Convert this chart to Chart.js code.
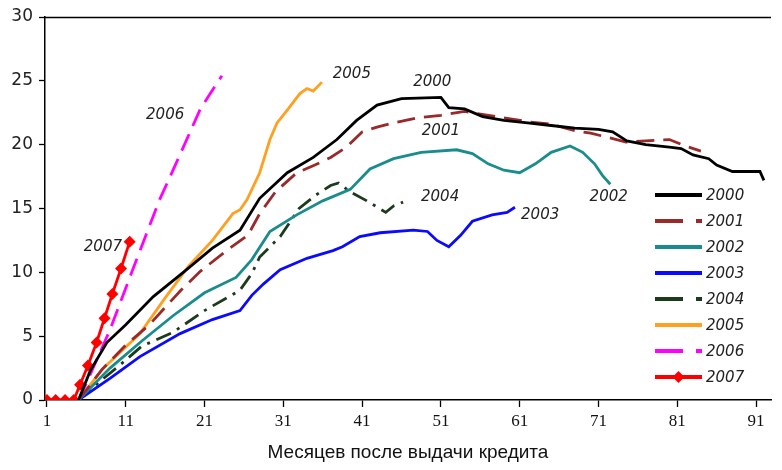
<!DOCTYPE html>
<html lang="ru">
<head>
<meta charset="utf-8">
<script src="https://cdn.jsdelivr.net/npm/chart.js@4.4.1/dist/chart.umd.min.js"></script>
<style>
  html, body { margin: 0; padding: 0; background: #fff; }
  #wrap { width: 782px; height: 470px; position: relative; }
</style>
</head>
<body>
<div id="wrap"><canvas id="chart"></canvas></div>
<script>
/* Datos (meses después de la emisión / valor en %) */

const xTicks = [1, 11, 21, 31, 41, 51, 61, 71, 81, 91];
const yTicks = [0, 5, 10, 15, 20, 25, 30];

const months2000 = [5, 6.5, 8.6, 11, 14.5, 18.3, 22, 25.5, 28, 31.5, 34.8, 37.8, 40.3, 42.9, 46, 51, 52, 54, 56.3, 59, 62, 65, 68, 71, 72.8, 74.6, 77, 80, 81.5, 83, 85, 86, 88, 90, 91.5, 92];
const values2000 = [0, 2.3, 4.5, 5.9, 8.1, 10.0, 11.9, 13.3, 15.8, 17.8, 19.0, 20.4, 21.9, 23.1, 23.6, 23.7, 22.9, 22.8, 22.2, 21.9, 21.7, 21.5, 21.3, 21.2, 21.0, 20.3, 20.0, 19.8, 19.7, 19.2, 18.9, 18.4, 17.9, 17.9, 17.9, 17.2];

const months2001 = [5, 8, 11, 14, 18, 20.5, 24, 26.5, 28, 30, 32.7, 35, 37, 39, 41, 43, 45, 48, 51, 54, 58, 62, 65, 68, 70, 72, 74.5, 77, 80, 82, 84];
const values2001 = [0, 2.4, 4.3, 5.9, 8.6, 10.1, 11.8, 12.9, 14.6, 16.3, 17.8, 18.4, 19.0, 19.8, 21.0, 21.4, 21.7, 22.1, 22.3, 22.6, 22.2, 21.8, 21.6, 21.1, 20.9, 20.6, 20.2, 20.3, 20.4, 19.9, 19.5];

const months2002 = [5, 9, 13, 17, 21, 25, 27, 29.3, 32.7, 36, 39.5, 42, 45, 48.5, 53, 55, 57, 59, 61, 63, 65, 67.4, 69, 70.5, 71.5, 72.5];
const values2002 = [0, 2.5, 4.6, 6.6, 8.4, 9.6, 11.0, 13.2, 14.5, 15.6, 16.5, 18.1, 18.9, 19.4, 19.6, 19.3, 18.5, 18.0, 17.8, 18.5, 19.4, 19.9, 19.4, 18.5, 17.6, 16.9];

const months2003 = [5, 9, 12.8, 17.9, 22, 25.5, 27, 28.5, 30.6, 34, 37.3, 38.5, 40.7, 43.3, 47.5, 49.3, 50.5, 52, 53.5, 55, 57.5, 59.4, 60.4];
const values2003 = [0, 1.7, 3.4, 5.2, 6.3, 7.0, 8.2, 9.1, 10.2, 11.1, 11.7, 12.0, 12.8, 13.1, 13.3, 13.2, 12.5, 12.0, 12.9, 14.0, 14.5, 14.7, 15.1];

const months2004 = [5, 8, 10, 13, 17, 21, 25.5, 27, 28, 30.6, 33, 35, 37, 38, 39.5, 41.6, 44, 45, 46.2];
const values2004 = [0, 1.6, 2.6, 4.2, 5.3, 7.0, 8.6, 9.9, 11.2, 12.8, 15.0, 16.0, 16.8, 17.0, 16.3, 15.6, 14.7, 15.2, 15.5];

const months2005 = [5, 8, 12.8, 16, 19, 22, 24.6, 25.5, 26.4, 28, 29.3, 30.2, 31.5, 33.1, 34, 34.8, 35.9];
const values2005 = [0, 2.4, 5.2, 8.0, 10.5, 12.5, 14.6, 14.9, 15.7, 17.8, 20.4, 21.7, 22.7, 24.0, 24.4, 24.2, 24.9];

const months2006 = [5, 6, 9, 12, 15.3, 17, 19.1, 20.4, 21.4, 23.2];
const values2006 = [0, 1.3, 5.5, 10.4, 15.7, 18.0, 20.9, 22.7, 23.7, 25.4];

const months2007 = [1, 2.1, 3.3, 4.4, 5.2, 6.2, 7.3, 8.3, 9.3, 10.4, 11.5];
const values2007 = [0, 0, 0, 0, 1.2, 2.7, 4.5, 6.4, 8.3, 10.3, 12.4];

// Etiquetas de año escritas sobre las curvas (en coordenadas de datos)
const noteText = ['2006', '2005', '2000', '2001', '2002', '2004', '2003', '2007'];
const noteX    = [16.0, 39.7, 49.9, 51.0, 72.3, 50.9, 63.6, 8.1];
const noteY    = [22.3, 25.5, 24.9, 21.1, 15.9, 15.9, 14.5, 12.0];

const xTitle = 'Месяцев после выдачи кредита';


/* Estilos de cada serie */

const COLORS = {
  y2000: '#000000',
  y2001: '#9a2a2a',
  y2002: '#1a8c8c',
  y2003: '#0a0aff',
  y2004: '#1c3a1c',
  y2005: '#ffa020',
  y2006: '#ff00ff',
  y2007: '#ff0000',
  text:  '#222222',
};

const toPoints = (xs, ys) => xs.map((x, i) => ({ x: x, y: ys[i] }));

const series = [
  { label: '2000', m: months2000, v: values2000, color: COLORS.y2000, dash: [],           legendDash: [] },
  { label: '2001', m: months2001, v: values2001, color: COLORS.y2001, dash: [18, 9],      legendDash: [28, 13] },
  { label: '2002', m: months2002, v: values2002, color: COLORS.y2002, dash: [],           legendDash: [] },
  { label: '2003', m: months2003, v: values2003, color: COLORS.y2003, dash: [],           legendDash: [] },
  { label: '2004', m: months2004, v: values2004, color: COLORS.y2004, dash: [16, 7, 3, 7], legendDash: [28, 13] },
  { label: '2005', m: months2005, v: values2005, color: COLORS.y2005, dash: [],           legendDash: [] },
  { label: '2006', m: months2006, v: values2006, color: COLORS.y2006, dash: [18, 9],      legendDash: [28, 13] },
  { label: '2007', m: months2007, v: values2007, color: COLORS.y2007, dash: [],           legendDash: [], marker: true },
];

const datasets = series.map(s => ({
  label: s.label,
  data: toPoints(s.m, s.v),
  borderColor: s.color,
  backgroundColor: s.color,
  borderWidth: 2.8,
  borderDash: s.dash,
  pointRadius: s.marker ? 6 : 0,
  pointStyle: 'rectRot',
  pointBorderWidth: 0,
  tension: 0,
  fill: false,
}));


/* Plugin: borde superior, etiquetas de año y leyenda dentro del área */

const extrasPlugin = {
  id: 'extras',
  afterDatasetsDraw(chart) {
    const { ctx, chartArea, scales } = chart;
    ctx.save();

    // línea superior del marco
    ctx.strokeStyle = '#000';
    ctx.lineWidth = 1.3;
    ctx.beginPath();
    ctx.moveTo(chartArea.left, chartArea.top + 0.5);
    ctx.lineTo(chartArea.right, chartArea.top + 0.5);
    ctx.stroke();

    // etiquetas junto a las curvas
    ctx.font = 'italic 15px "DejaVu Sans"';
    ctx.fillStyle = COLORS.text;
    ctx.textAlign = 'center';
    ctx.textBaseline = 'middle';
    noteText.forEach((t, i) => {
      ctx.fillText(t, scales.x.getPixelForValue(noteX[i]), scales.y.getPixelForValue(noteY[i]));
    });

    // leyenda
    const x0 = 655, x1 = 702, yStart = 195, step = 26;
    ctx.textAlign = 'left';
    series.forEach((s, i) => {
      const yy = yStart + i * step;
      ctx.strokeStyle = s.color;
      ctx.lineWidth = 4;
      ctx.setLineDash(s.legendDash);
      ctx.beginPath();
      ctx.moveTo(x0, yy);
      ctx.lineTo(x1, yy);
      ctx.stroke();
      ctx.setLineDash([]);
      if (s.marker) {
        ctx.fillStyle = s.color;
        ctx.beginPath();
        ctx.moveTo((x0 + x1) / 2, yy - 6);
        ctx.lineTo((x0 + x1) / 2 + 6, yy);
        ctx.lineTo((x0 + x1) / 2, yy + 6);
        ctx.lineTo((x0 + x1) / 2 - 6, yy);
        ctx.closePath();
        ctx.fill();
      }
      ctx.fillStyle = COLORS.text;
      ctx.fillText(s.label, x1 + 4, yy + 1);
    });

    ctx.restore();
  },
};


/* Gráfico */

new Chart(document.getElementById('chart'), {
  type: 'line',
  data: { datasets: datasets },
  plugins: [extrasPlugin],
  options: {
    responsive: true,
    maintainAspectRatio: false,
    animation: false,
    layout: { padding: { top: 17, right: 11, left: 0, bottom: 0 } },
    plugins: {
      legend: { display: false },
      tooltip: { enabled: false },
    },
    scales: {
      x: {
        type: 'linear',
        min: 0.75,
        max: 92.9,
        afterBuildTicks: (scale) => { scale.ticks = xTicks.map(v => ({ value: v })); },
        afterFit: (scale) => { scale.height = 70; },
        ticks: {
          autoSkip: false,
          maxRotation: 0,
          color: '#111',
          padding: 4,
          font: { family: '"Liberation Serif", serif', size: 17 },
        },
        grid: {
          display: true,
          drawOnChartArea: false,
          drawTicks: true,
          tickLength: 7,
          tickColor: '#000',
          tickWidth: 1.3,
        },
        border: { color: '#000', width: 1.5 },
        title: {
          display: true,
          text: xTitle,
          color: '#111',
          font: { family: '"Liberation Sans", Arial, sans-serif', size: 19 },
          padding: { top: 0, bottom: 6 },
        },
      },
      y: {
        min: 0,
        max: 30,
        afterBuildTicks: (scale) => { scale.ticks = yTicks.map(v => ({ value: v })); },
        afterFit: (scale) => { scale.width = 45; },
        ticks: {
          color: COLORS.text,
          padding: 6,
          font: { family: '"DejaVu Sans", sans-serif', size: 17 },
        },
        grid: {
          display: true,
          drawOnChartArea: false,
          drawTicks: true,
          tickLength: 6,
          tickColor: '#000',
          tickWidth: 1.3,
        },
        border: { color: '#000', width: 1.5 },
      },
    },
  },
});
</script>
</body>
</html>
